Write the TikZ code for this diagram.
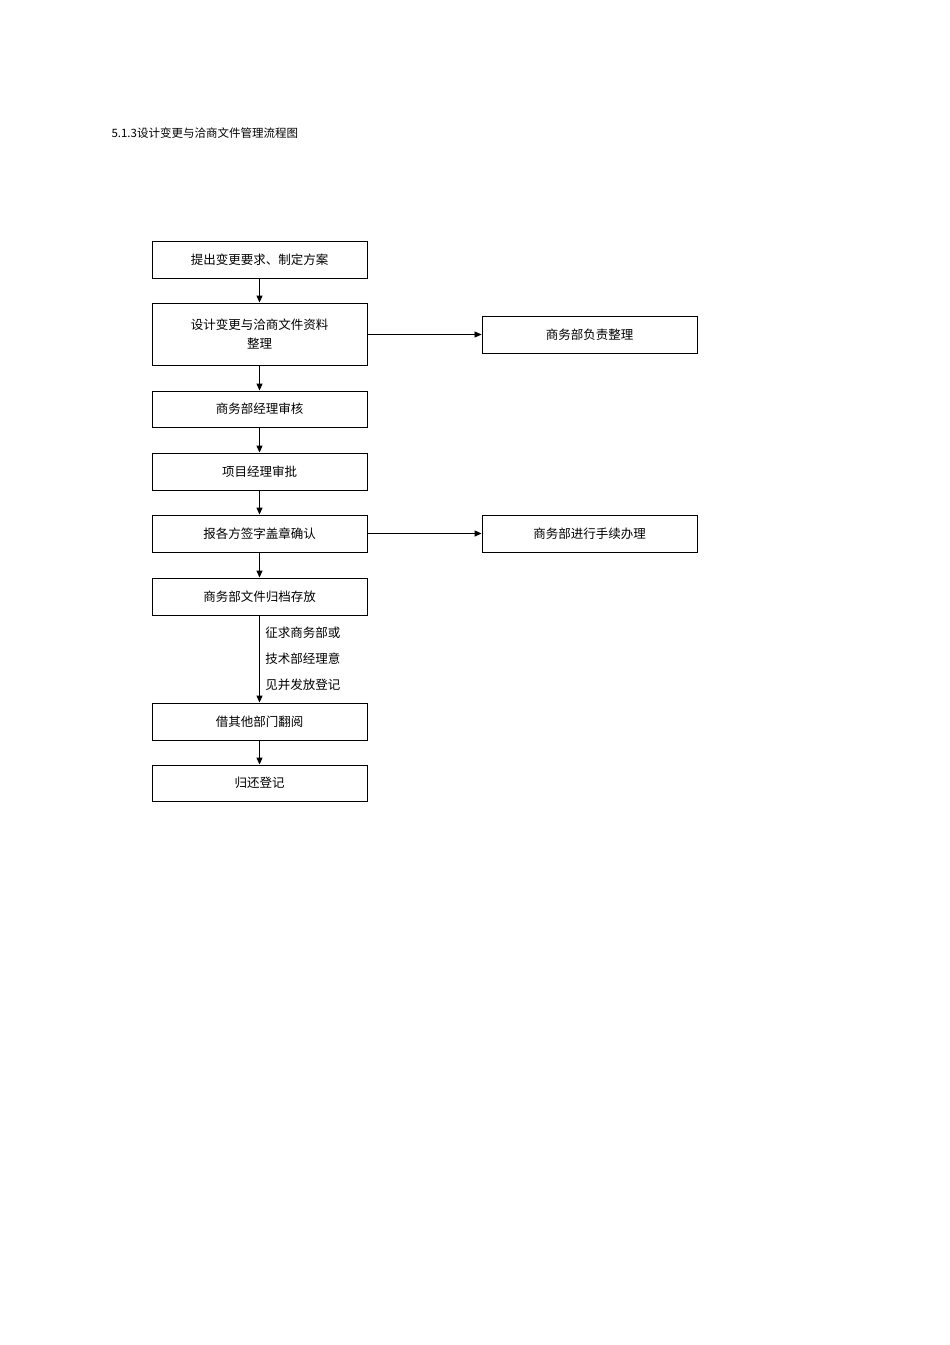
\documentclass[tikz,border=0pt]{standalone}
\usepackage{fontspec}
\newfontfamily\cjk{Noto Sans CJK SC}
\usetikzlibrary{arrows.meta}
\begin{document}
\begin{tikzpicture}[x=1pt,y=-1pt,
  box/.style={draw,line width=0.9pt,minimum width=215pt,inner sep=0pt,align=center,font=\cjk\fontsize{12.5}{19}\selectfont},
  arr/.style={-{Triangle[length=7pt,width=6pt]},line width=1.2pt},
  arrt/.style={-{Triangle[length=7pt,width=6pt]},line width=0.7pt}]
\useasboundingbox (0,0) rectangle (950,1345);
\node[anchor=west,font=\cjk\fontsize{11.5}{14}\selectfont] (t) at (108,133) {5.1.3设计变更与洽商文件管理流程图};
\node[box,minimum height=37pt] (b1) at (259.5,259.5) {提出变更要求、制定方案};
\node[box,minimum height=62pt] (b2) at (259.5,334) {设计变更与洽商文件资料\\整理};
\node[box,minimum height=36pt] (b3) at (259.5,409) {商务部经理审核};
\node[box,minimum height=37pt] (b4) at (259.5,471.5) {项目经理审批};
\node[box,minimum height=37pt] (b5) at (259.5,533.5) {报各方签字盖章确认};
\node[box,minimum height=37pt] (b6) at (259.5,596.5) {商务部文件归档存放};
\node[box,minimum height=37pt] (b7) at (259.5,721.5) {借其他部门翻阅};
\node[box,minimum height=36pt] (b8) at (259.5,783) {归还登记};
\node[box,minimum height=37pt] (r1) at (589.5,334.5) {商务部负责整理};
\node[box,minimum height=37pt] (r2) at (589.5,533.5) {商务部进行手续办理};
\draw[arr] (b1) -- (b2);
\draw[arr] (b2) -- (b3);
\draw[arr] (b3) -- (b4);
\draw[arr] (b4) -- (b5);
\draw[arr] (b5) -- (b6);
\draw[arr] (b6) -- node[right,align=left,xshift=2pt,font=\cjk\fontsize{12.5}{26}\selectfont]{征求商务部或\\技术部经理意\\见并发放登记} (b7);
\draw[arr] (b7) -- (b8);
\draw[arrt] (b2.east |- r1) -- (r1);
\draw[arr] (b5) -- (r2);
\end{tikzpicture}
\end{document}
